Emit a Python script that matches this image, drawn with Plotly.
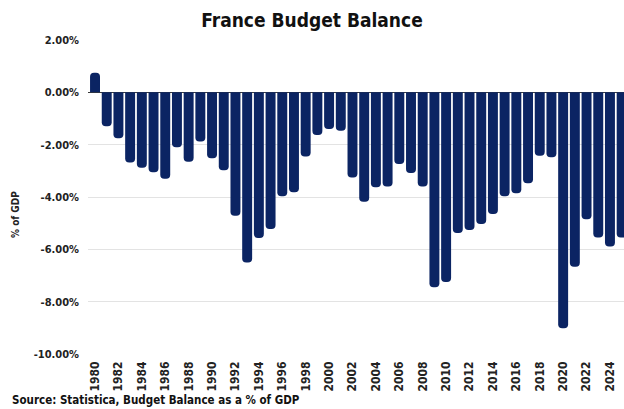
import plotly.graph_objects as go

years = list(range(1980, 2026))
balance = [0.75, -1.30, -1.75, -2.68, -2.88, -3.05, -3.30, -2.10, -2.65, -1.88,
           -2.52, -2.98, -4.72, -6.50, -5.57, -5.22, -3.97, -3.82, -2.45, -1.63,
           -1.40, -1.47, -3.25, -4.18, -3.63, -3.60, -2.74, -3.08, -3.60, -7.45,
           -7.25, -5.38, -5.26, -5.03, -4.65, -3.97, -3.86, -3.47, -2.42, -2.48,
           -9.02, -6.67, -4.85, -5.55, -5.89, -5.55]
y_ticks = [2, 0, -2, -4, -6, -8, -10]
y_labels = ["2.00%", "0.00%", "-2.00%", "-4.00%", "-6.00%", "-8.00%", "-10.00%"]
x_ticks = list(range(1980, 2025, 2))

FONT = "DejaVu Sans Condensed, DejaVu Sans, sans-serif"
NAVY = "#0b2463"

fig = go.Figure(go.Bar(
    x=years, y=balance,
    marker=dict(color=NAVY, line=dict(width=0), cornerradius=4),
))

fig.update_layout(
    width=624, height=409,
    margin=dict(l=88, r=0, t=40, b=55),
    paper_bgcolor="white", plot_bgcolor="white",
    bargap=0.15,
    showlegend=False,
    title=dict(text="France Budget Balance", x=0.5, xanchor="center",
               y=1 - 20 / 409, yanchor="middle",
               font=dict(family=FONT, size=19, color="#111111", weight="bold")),
    font=dict(family=FONT, color="#222222"),
)

fig.update_yaxes(
    range=[-10, 2], tickvals=y_ticks, ticktext=y_labels,
    showgrid=True, gridcolor="#e3e3e3", gridwidth=1,
    zeroline=True, zerolinecolor="#3a3a3a", zerolinewidth=1,
    showline=False, ticks="", ticklabelstandoff=8,
    tickfont=dict(family=FONT, size=11, color="#222222", weight="bold"),
)
fig.update_xaxes(
    range=[1979.4, 2025.2], tickvals=x_ticks, tickangle=-90,
    showgrid=False, zeroline=False, showline=False, ticks="",
    ticklabelstandoff=4,
    tickfont=dict(family=FONT, size=12, color="#222222", weight="bold"),
)

fig.add_annotation(text="% of GDP", xref="paper", yref="paper",
                   x=(15 - 88) / 536, y=(354 - 215) / 314, textangle=-90,
                   showarrow=False, xanchor="center", yanchor="middle",
                   font=dict(family=FONT, size=10, color="#222222", weight="bold"))
fig.add_annotation(text="Source: Statistica, Budget Balance as a % of GDP",
                   xref="paper", yref="paper",
                   x=(10 - 88) / 536, y=(354 - 400) / 314,
                   showarrow=False, xanchor="left", yanchor="middle",
                   font=dict(family=FONT, size=11.5, color="#111111", weight="bold"))

fig.write_html("out.html")
